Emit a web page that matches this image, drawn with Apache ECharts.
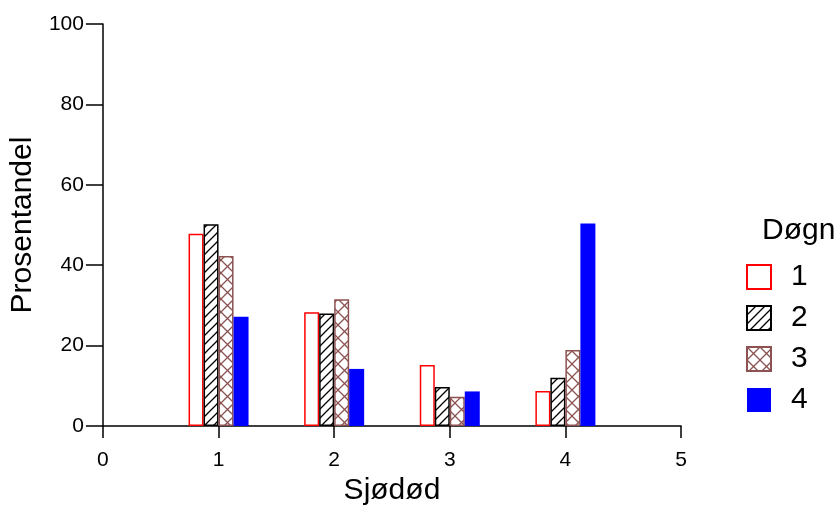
<!DOCTYPE html>
<html><head><meta charset="utf-8">
<script src="https://cdn.jsdelivr.net/npm/echarts@6/dist/echarts.min.js"></script>
<style>html,body{margin:0;padding:0;background:#fff}#c{width:838px;height:511px}</style>
</head><body><div id="c"></div>
<script>
const xValues = [1, 2, 3, 4];
const seriesNames = ['1', '2', '3', '4'];
const s1 = [47.8, 28.3, 15.2, 8.7];
const s2 = [50.2, 28.0, 9.7, 12.0];
const s3 = [42.3, 31.5, 7.3, 18.9];
const s4 = [27.2, 14.2, 8.6, 50.4];
const yTicks = [0, 20, 40, 60, 80, 100];
const xTicks = [0, 1, 2, 3, 4, 5];

function hatchPattern() {
  const c = document.createElement('canvas'); c.width = 9; c.height = 9;
  const g = c.getContext('2d');
  g.fillStyle = '#fff'; g.fillRect(0, 0, 9, 9);
  g.strokeStyle = '#000'; g.lineWidth = 1.3;
  g.beginPath();
  g.moveTo(-1, 10); g.lineTo(10, -1);
  g.moveTo(-2, 2); g.lineTo(2, -2);
  g.moveTo(7, 11); g.lineTo(11, 7);
  g.stroke();
  return c;
}
function crossPattern() {
  const n = 13;
  const c = document.createElement('canvas'); c.width = n; c.height = n;
  const g = c.getContext('2d');
  g.fillStyle = '#fff'; g.fillRect(0, 0, n, n);
  g.strokeStyle = '#8c5252'; g.lineWidth = 1.3;
  g.beginPath();
  g.moveTo(-1, -1); g.lineTo(n + 1, n + 1);
  g.moveTo(-1, n + 1); g.lineTo(n + 1, -1);
  g.stroke();
  return c;
}

const chart = echarts.init(document.getElementById('c'), null, {renderer: 'canvas'});
const font = 'Liberation Sans';
function mk(name, vals, itemStyle) {
  return {
    name: name, type: 'bar', barWidth: 15, barGap: '0%',
    data: xValues.map((x, i) => [x, vals[i]]),
    itemStyle: itemStyle, emphasis: {disabled: true}, animation: false
  };
}
chart.setOption({
  animation: false,
  textStyle: {fontFamily: font},
  grid: {left: 102, right: 157, top: 24, bottom: 84},
  xAxis: {
    type: 'value', min: xTicks[0], max: xTicks[xTicks.length - 1], interval: 1,
    name: 'Sjødød', nameLocation: 'middle', nameGap: 50,
    nameTextStyle: {fontSize: 30, color: '#000', fontFamily: font},
    axisLine: {show: true, onZero: false, lineStyle: {color: '#000', width: 1.5}},
    axisTick: {show: true, length: 12, lineStyle: {color: '#000', width: 1.5}},
    axisLabel: {fontSize: 21, color: '#000', margin: 24, fontFamily: font},
    splitLine: {show: false}
  },
  yAxis: {
    type: 'value', min: yTicks[0], max: yTicks[yTicks.length - 1], interval: 20,
    name: 'Prosentandel', nameLocation: 'middle', nameGap: 56,
    nameTextStyle: {fontSize: 30, color: '#000', fontFamily: font},
    axisLine: {show: true, onZero: false, lineStyle: {color: '#000', width: 1.5}},
    axisTick: {show: true, length: 17, lineStyle: {color: '#000', width: 1.5}},
    axisLabel: {fontSize: 21, color: '#000', margin: 19, fontFamily: font},
    splitLine: {show: false}
  },
  legend: {
    orient: 'vertical', left: 746, top: 262, padding: 0, itemWidth: 24, itemHeight: 24, itemGap: 11,
    icon: 'rect', selectedMode: false,
    textStyle: {fontSize: 30, color: '#000', fontFamily: font, padding: [0, 0, 0, 15]},
    data: seriesNames
  },
  graphic: [{
    type: 'text', left: 762, top: 216,
    style: {text: 'Døgn', font: '30px "Liberation Sans"', fill: '#000'}
  }],
  series: [
    mk(seriesNames[0], s1, {color: '#ffffff', borderColor: '#ff0000', borderWidth: 1.5}),
    mk(seriesNames[1], s2, {color: {image: hatchPattern(), repeat: 'repeat'}, borderColor: '#000000', borderWidth: 1.5}),
    mk(seriesNames[2], s3, {color: {image: crossPattern(), repeat: 'repeat'}, borderColor: '#8c5252', borderWidth: 1.5}),
    mk(seriesNames[3], s4, {color: '#0000ff', borderColor: '#0000ff', borderWidth: 0})
  ]
});
</script></body></html>
